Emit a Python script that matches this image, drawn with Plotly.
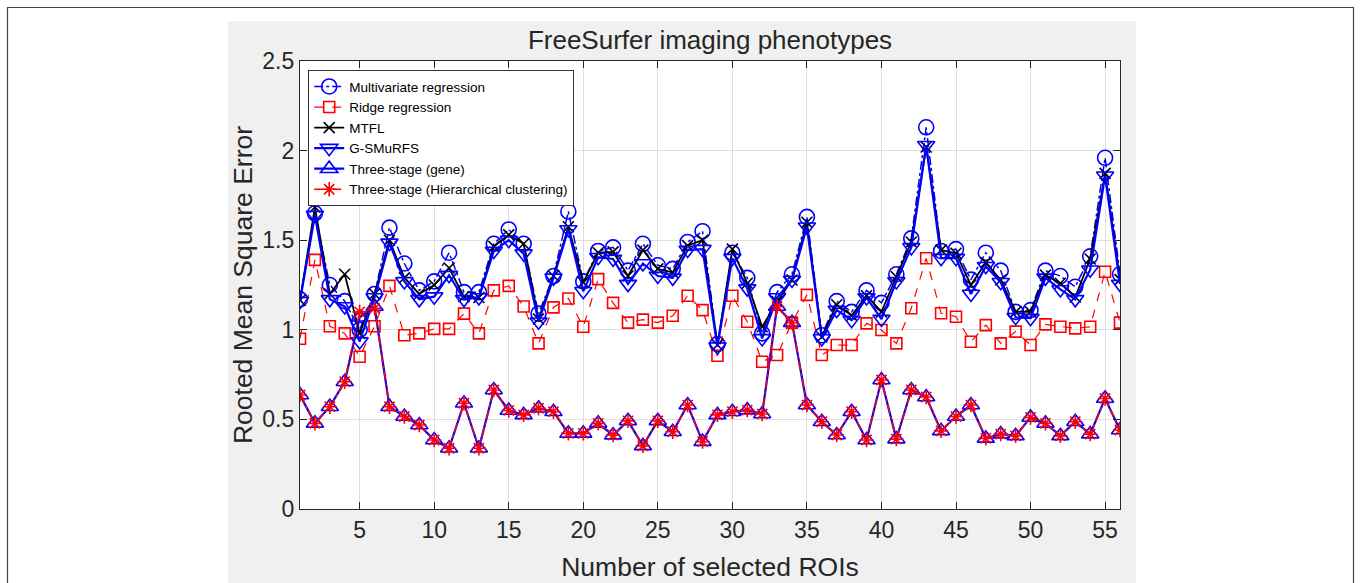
import plotly.graph_objects as go

rois = list(range(1, 57))

multivariate = [1.17, 1.65, 1.25, 1.16, 1.00, 1.20, 1.57, 1.37, 1.22, 1.27,
                1.43, 1.21, 1.21, 1.48, 1.56, 1.48, 1.09, 1.30, 1.66, 1.27,
                1.44, 1.46, 1.33, 1.48, 1.36, 1.34, 1.49, 1.55, 0.92, 1.43,
                1.29, 0.98, 1.21, 1.31, 1.63, 0.97, 1.16, 1.10, 1.22, 1.15,
                1.31, 1.51, 2.13, 1.44, 1.45, 1.28, 1.43, 1.33, 1.10, 1.11,
                1.33, 1.30, 1.24, 1.41, 1.96, 1.31]

ridge = [0.95, 1.39, 1.02, 0.98, 0.85, 1.02, 1.245, 0.97, 0.98, 1.005,
         1.005, 1.09, 0.98, 1.22, 1.245, 1.13, 0.924, 1.125, 1.175, 1.017,
         1.283, 1.15, 1.04, 1.057, 1.04, 1.078, 1.19, 1.11, 0.855, 1.19,
         1.045, 0.822, 0.859, 1.04, 1.195, 0.859, 0.915, 0.915, 1.036, 0.999,
         0.924, 1.12, 1.399, 1.092, 1.073, 0.933, 1.026, 0.924, 0.99, 0.915,
         1.03, 1.017, 1.008, 1.017, 1.324, 1.04]

mtfl = [1.165, 1.685, 1.20, 1.31, 0.98, 1.20, 1.50, 1.29, 1.20, 1.25,
        1.345, 1.185, 1.18, 1.465, 1.53, 1.48, 1.06, 1.30, 1.575, 1.265,
        1.43, 1.435, 1.30, 1.445, 1.34, 1.32, 1.47, 1.50, 0.915, 1.45,
        1.26, 1.017, 1.157, 1.278, 1.60, 0.96, 1.14, 1.08, 1.19, 1.10,
        1.296, 1.49, 2.02, 1.445, 1.427, 1.25, 1.375, 1.278, 1.10, 1.10,
        1.305, 1.26, 1.183, 1.395, 1.873, 1.28]

gsmurfs = [1.16, 1.64, 1.17, 1.13, 0.935, 1.18, 1.485, 1.27, 1.17, 1.185,
           1.305, 1.17, 1.18, 1.44, 1.50, 1.425, 1.045, 1.29, 1.56, 1.215,
           1.405, 1.395, 1.255, 1.37, 1.30, 1.29, 1.445, 1.45, 0.906, 1.40,
           1.23, 0.952, 1.18, 1.278, 1.575, 0.952, 1.11, 1.054, 1.18, 1.06,
           1.27, 1.46, 2.03, 1.40, 1.40, 1.20, 1.355, 1.265, 1.07, 1.065,
           1.29, 1.225, 1.17, 1.335, 1.86, 1.255]

three_stage_gene = [0.636, 0.478, 0.571, 0.71, 1.07, 1.13, 0.571, 0.516, 0.469, 0.385,
                    0.339, 0.59, 0.339, 0.664, 0.55, 0.525, 0.562, 0.543, 0.422, 0.422,
                    0.478, 0.412, 0.492, 0.352, 0.492, 0.431, 0.58, 0.376, 0.525, 0.543,
                    0.552, 0.53, 1.13, 1.04, 0.58, 0.487, 0.413, 0.543, 0.385, 0.72,
                    0.39, 0.664, 0.625, 0.436, 0.516, 0.58, 0.394, 0.418, 0.408, 0.511,
                    0.478, 0.408, 0.487, 0.418, 0.617, 0.441]

three_stage_hc = [0.636, 0.478, 0.571, 0.71, 1.10, 1.12, 0.571, 0.516, 0.469, 0.385,
                  0.339, 0.59, 0.339, 0.664, 0.55, 0.525, 0.562, 0.543, 0.422, 0.422,
                  0.478, 0.412, 0.492, 0.352, 0.492, 0.431, 0.58, 0.376, 0.525, 0.543,
                  0.552, 0.53, 1.13, 1.04, 0.58, 0.487, 0.413, 0.543, 0.385, 0.72,
                  0.39, 0.664, 0.625, 0.436, 0.516, 0.58, 0.394, 0.418, 0.408, 0.511,
                  0.478, 0.408, 0.487, 0.418, 0.617, 0.441]

x_ticks = [5, 10, 15, 20, 25, 30, 35, 40, 45, 50, 55]

FONT = "Liberation Sans, Arial, sans-serif"
TXT = "#262626"

series = [
    ("Multivariate regression", multivariate, "#0000ff", "dashdot", 1.5, "circle-open", 15),
    ("Ridge regression", ridge, "#ff0000", "dash", 1.2, "square-open", 11),
    ("MTFL", mtfl, "#000000", "solid", 1.8, "x-thin-open", 11),
    ("G-SMuRFS", gsmurfs, "#0000ff", "solid", 2.2, "triangle-down-open", 15),
    ("Three-stage (gene)", three_stage_gene, "#0000ff", "solid", 2.2, "triangle-up-open", 15),
    ("Three-stage (Hierarchical clustering)", three_stage_hc, "#ff0000", "dashdot", 1.5, "asterisk-open", 12),
]

fig = go.Figure()
for name, vals, color, dash, lw, symbol, msize in series:
    fig.add_trace(go.Scatter(
        x=rois, y=vals, name=name, mode="lines+markers",
        line=dict(color=color, width=lw, dash=dash),
        marker=dict(symbol=symbol, size=msize, color=color,
                    line=dict(color=color, width=1.6)),
    ))

# px -> paper helpers for the decoration rectangles
L, R, T, B = 300, 1120, 61, 509


def px(xp):
    return (xp - L) / (R - L)


def py(yp):
    return (B - yp) / (B - T)


shapes = [
    # grey matlab figure background
    dict(type="rect", xref="paper", yref="paper", x0=px(228), x1=px(1136), y0=py(600), y1=py(21),
         fillcolor="#f0f0f0", line=dict(width=0), layer="below"),
    dict(type="rect", xref="paper", yref="paper", x0=0, x1=1, y0=0, y1=1,
         fillcolor="white", line=dict(width=0), layer="below"),
    # outer frame
    dict(type="rect", xref="paper", yref="paper", x0=px(7.5), x1=px(1353.5), y0=py(620), y1=py(7.5),
         fillcolor="rgba(0,0,0,0)", line=dict(color="#444444", width=1.2), layer="above"),
]

axis_common = dict(
    showline=True, linecolor="#262626", linewidth=1.3, mirror="ticks",
    ticks="inside", ticklen=7, tickcolor="#262626", tickwidth=1.3,
    showgrid=True, gridcolor="#dedede", gridwidth=1, zeroline=False,
    tickfont=dict(family=FONT, size=23, color=TXT),
)

fig.update_layout(
    width=1360, height=583,
    margin=dict(l=L, r=1360 - R, t=T, b=583 - B, autoexpand=False),
    paper_bgcolor="white", plot_bgcolor="rgba(0,0,0,0)",
    title=dict(text="FreeSurfer imaging phenotypes", x=0.5, xref="paper", xanchor="center",
               y=1 - 40 / 583, yanchor="middle",
               font=dict(family=FONT, size=26, color=TXT)),
    xaxis=dict(axis_common, range=[1, 56], tickvals=x_ticks,
               title=dict(text="Number of selected ROIs", standoff=15,
                          font=dict(family=FONT, size=26.5, color=TXT))),
    yaxis=dict(axis_common, range=[0, 2.5], dtick=0.5,
               title=dict(text="Rooted Mean Square Error", standoff=1,
                          font=dict(family=FONT, size=26.5, color=TXT))),
    legend=dict(x=px(308), y=py(70), xanchor="left", yanchor="top",
                bgcolor="white", bordercolor="#333333", borderwidth=1.2,
                font=dict(family=FONT, size=13.5, color="#000000"),
                tracegroupgap=0, itemwidth=30),
    shapes=shapes,
    showlegend=True,
)

# the page's default 8px body margin would shift the whole figure
fig.write_html("out.html", config={"displayModeBar": False},
               post_script="document.body.style.margin='0';")
